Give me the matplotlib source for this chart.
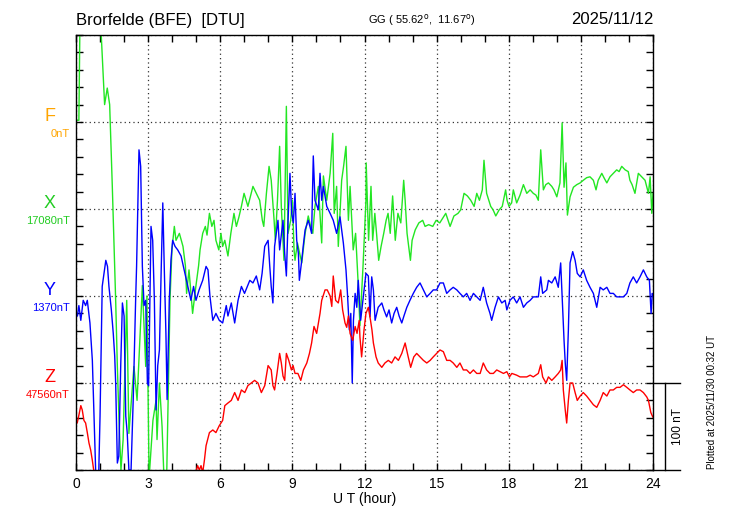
import numpy as np
import matplotlib
matplotlib.use("Agg")
import matplotlib.pyplot as plt
import matplotlib.transforms as mtransforms
from matplotlib.ticker import MultipleLocator

plt.rcParams["font.family"] = ["Liberation Sans", "DejaVu Sans"]

# ---- station / baselines ----
station = "Brorfelde (BFE)  [DTU]"
coords = "GG ( 55.62$^{\\rm o}$,  11.67$^{\\rm o}$)"
date_str = "2025/11/12"
plotted = "Plotted at 2025/11/30 00:32 UT"
comp_names = ["F", "X", "Y", "Z"]
comp_base = ["0nT", "17080nT", "1370nT", "47560nT"]
comp_colors = ["#ffa500", "#22e622", "#0000ff", "#ff0000"]
comp_offset = [300, 200, 100, 0]   # where each baseline sits on the plot (nT)

# ---- X component: hours, deviation from 17080 nT ----
x_hours = [0.0, 0.12, 0.17, 0.5, 0.9, 1.05, 1.19, 1.30, 1.40, 1.51, 1.65, 1.72,
           1.79, 1.87, 1.96, 2.11, 2.20, 2.41, 2.54, 2.76, 2.90, 2.95, 3.04, 3.2,
           3.33, 3.37, 3.47, 3.58, 3.66, 3.77, 3.83, 3.91, 3.99, 4.09, 4.16, 4.30,
           4.45, 4.55, 4.60, 4.70, 4.78, 4.85, 4.99, 5.10, 5.16, 5.27, 5.38, 5.45,
           5.55, 5.65, 5.74, 5.82, 5.94, 6.03, 6.10, 6.19, 6.32, 6.44, 6.57, 6.67,
           6.77, 6.88, 6.99, 7.15, 7.29, 7.36, 7.50, 7.64, 7.75, 7.81, 7.92, 8.03,
           8.12, 8.24, 8.29, 8.38, 8.47, 8.54, 8.65, 8.75, 8.82, 8.93, 9.0, 9.07,
           9.11, 9.21, 9.39, 9.53, 9.66, 9.76, 9.85, 9.94, 10.08, 10.22, 10.29, 10.43,
           10.57, 10.68, 10.74, 10.84, 10.91, 11.05, 11.13, 11.23, 11.33, 11.40, 11.53, 11.63,
           11.73, 11.81, 11.94, 12.06, 12.07, 12.17, 12.27, 12.34, 12.43, 12.51, 12.59, 12.69,
           12.80, 12.90, 12.98, 13.07, 13.17, 13.28, 13.39, 13.51, 13.63, 13.69, 13.77, 13.91,
           13.98, 14.11, 14.26, 14.42, 14.52, 14.67, 14.84, 14.98, 15.13, 15.38, 15.56, 15.72,
           15.89, 16.00, 16.14, 16.28, 16.42, 16.56, 16.67, 16.78, 16.90, 16.97, 17.08, 17.25,
           17.35, 17.46, 17.60, 17.73, 17.87, 17.93, 18.01, 18.12, 18.19, 18.33, 18.47, 18.61,
           18.75, 18.89, 19.02, 19.13, 19.23, 19.33, 19.44, 19.54, 19.65, 19.79, 19.88, 20.0,
           20.13, 20.22, 20.30, 20.38, 20.44, 20.55, 20.69, 20.83, 20.97, 21.10, 21.24, 21.38,
           21.52, 21.63, 21.72, 21.87, 21.96, 22.08, 22.21, 22.35, 22.49, 22.59, 22.70, 22.84,
           22.97, 23.04, 23.13, 23.25, 23.39, 23.53, 23.67, 23.81, 23.88, 23.95, 24.0]
x_dev = [102, 102, 230, 280, 260, 200, 120, 139, 120, 26, -105, -181,
         -243, -300, -265, -105, -258, -181, -220, -88, -181, -100, -310, -243,
         -220, -265, -200, -250, -310, -310, -220, -105, -47, -20, -36, -28,
         -43, -65, -97, -70, -97, -120, -88, -65, -47, -28, -20, -30,
         -5, -20, -13, -36, -47, -28, -43, -36, -54, -28, -5, -20,
         -10, 3, 18, 3, 18, 26, 18, 10, -13, -20, 18, 49,
         33, -13, -36, 10, 72, 3, -59, 118, -28, -13, 10, -47,
         -59, -39, -62, -28, -8, -20, -28, 3, 26, -39, 38, 10,
         41, 87, -5, 26, -43, 33, 49, 72, -13, 26, -47, -28,
         -82, -134, -65, 10, 53, -36, 26, -36, -5, -31, -59, -43,
         -28, -13, -5, -28, 15, -36, -5, -16, 33, 10, -28, -59,
         -36, -24, -16, -13, -20, -18, -20, -13, -16, -5, -20, -8,
         -5, -1, 18, 15, 10, 3, 18, 10, 22, 56, 18, 3,
         -1, -8, -1, 3, 22, 10, 3, 7, 22, 7, 16, 28,
         18, 22, 18, 16, 10, 68, 22, 28, 30, 26, 22, 14,
         30, 99, 25, 53, -7, 14, 25, 28, 30, 33, 36, 37,
         33, 22, 33, 41, 36, 30, 37, 41, 45, 43, 49, 45,
         43, 33, 28, 18, 41, 37, 33, 18, 37, -5, 18]

# ---- Y component: hours, deviation from 1370 nT ----
y_hours = [0.0, 0.06, 0.12, 0.20, 0.30, 0.40, 0.47, 0.58, 0.68, 0.75, 0.82, 0.92,
           1.0, 1.09, 1.24, 1.31, 1.37, 1.47, 1.55, 1.61, 1.65, 1.72, 1.78, 1.86,
           1.93, 2.0, 2.07, 2.13, 2.20, 2.29, 2.38, 2.48, 2.52, 2.62, 2.69, 2.76,
           2.83, 2.90, 2.97, 3.02, 3.12, 3.19, 3.26, 3.33, 3.40, 3.47, 3.54, 3.61,
           3.67, 3.74, 3.79, 3.88, 3.95, 4.02, 4.12, 4.23, 4.37, 4.50, 4.65, 4.78,
           4.89, 4.99, 5.12, 5.27, 5.41, 5.49, 5.57, 5.69, 5.82, 5.96, 6.10, 6.16,
           6.25, 6.32, 6.46, 6.60, 6.74, 6.88, 7.01, 7.23, 7.36, 7.50, 7.64, 7.74,
           7.85, 7.99, 8.06, 8.12, 8.19, 8.26, 8.33, 8.40, 8.47, 8.61, 8.68, 8.75,
           8.82, 8.90, 8.97, 9.04, 9.11, 9.18, 9.25, 9.29, 9.39, 9.45, 9.53, 9.66,
           9.73, 9.80, 9.87, 9.94, 10.08, 10.15, 10.22, 10.29, 10.43, 10.57, 10.70, 10.84,
           10.98, 11.12, 11.23, 11.29, 11.37, 11.43, 11.49, 11.54, 11.61, 11.68, 11.74, 11.84,
           11.95, 12.06, 12.16, 12.23, 12.30, 12.37, 12.44, 12.57, 12.72, 12.81, 12.92, 13.02,
           13.13, 13.23, 13.34, 13.44, 13.55, 13.64, 13.76, 13.89, 14.03, 14.17, 14.31, 14.45,
           14.59, 14.73, 14.86, 15.0, 15.14, 15.28, 15.42, 15.56, 15.69, 15.84, 15.97, 16.11,
           16.25, 16.39, 16.53, 16.67, 16.81, 16.94, 17.08, 17.22, 17.29, 17.43, 17.57, 17.71,
           17.85, 17.92, 18.05, 18.19, 18.33, 18.47, 18.61, 18.75, 18.89, 19.02, 19.23, 19.33,
           19.41, 19.58, 19.65, 19.79, 19.93, 20.06, 20.16, 20.22, 20.30, 20.35, 20.41, 20.48,
           20.55, 20.66, 20.76, 20.85, 20.97, 21.10, 21.24, 21.38, 21.52, 21.66, 21.80, 21.93,
           22.08, 22.21, 22.35, 22.49, 22.63, 22.77, 22.91, 23.04, 23.18, 23.32, 23.46, 23.60,
           23.74, 23.85, 23.92, 23.97, 24.0]
y_dev = [-20, -23, -11, -28, -5, -11, -5, -31, -74, -138, -203, -234,
         -138, 11, 41, 34, 11, -16, -43, -69, -100, -192, -184, -80,
         -8, -23, -138, -157, -200, -200, -119, -5, 34, 168, 149, 34,
         -11, -5, -100, -103, 80, 64, -5, -131, -80, -62, 26, 107,
         34, -43, -119, -5, 41, 64, 57, 53, 46, 30, 11, -5,
         11, -5, 7, 18, 34, 30, 0, -28, -20, -28, -31, -23,
         -11, -23, -8, -31, -5, 11, 3, 18, 15, 23, 7, 26,
         57, 64, 34, 11, -8, 57, 72, 87, 53, 87, 49, 23,
         87, 141, 95, 84, 118, 64, 49, 18, 41, 57, 76, 87,
         80, 72, 161, 110, 99, 141, 110, 126, 103, 95, 87, 72,
         91, 61, 30, 3, -39, -20, -100, -28, 3, -13, 18, -28,
         -1, 26, 23, -24, 22, 7, -28, -13, -8, -16, -24, -16,
         -31, -20, -13, -23, -31, -23, -13, -5, 3, 10, 15, 7,
         -1, 3, 7, 7, 15, 15, 3, 7, 10, 7, 3, -1,
         3, -5, 3, -1, -5, 10, -8, -20, -28, -13, -1, -8,
         -5, -16, -5, -1, -8, -1, -13, -8, -5, -1, -1, 22,
         3, 7, 18, 15, 22, 10, 38, -1, -51, -77, -97, -39,
         38, 51, 41, 26, 22, 30, 18, 10, 3, -13, 10, 7,
         10, 3, 3, -1, -1, -1, 3, 15, 22, 15, 22, 30,
         22, 18, -20, 3, 0]

# ---- Z component: hours, deviation from 47560 nT ----
z_hours = [0.0, 0.05, 0.12, 0.20, 0.26, 0.33, 0.40, 0.47, 0.54, 0.61, 0.68, 0.75,
           0.83, 2.0, 4.0, 4.8, 5.06, 5.13, 5.20, 5.27, 5.34, 5.41, 5.55, 5.69,
           5.82, 5.96, 6.10, 6.19, 6.32, 6.46, 6.60, 6.74, 6.88, 7.02, 7.15, 7.29,
           7.43, 7.57, 7.71, 7.85, 7.99, 8.12, 8.19, 8.26, 8.36, 8.47, 8.54, 8.61,
           8.68, 8.75, 8.85, 8.96, 9.03, 9.11, 9.23, 9.35, 9.46, 9.60, 9.71, 9.80,
           9.90, 10.01, 10.15, 10.22, 10.36, 10.45, 10.57, 10.64, 10.70, 10.80, 10.91, 11.01,
           11.09, 11.19, 11.26, 11.33, 11.40, 11.51, 11.61, 11.69, 11.78, 11.81, 11.88, 11.98,
           12.06, 12.16, 12.25, 12.31, 12.37, 12.48, 12.57, 12.72, 12.85, 12.99, 13.13, 13.27,
           13.41, 13.55, 13.69, 13.81, 13.92, 14.05, 14.17, 14.31, 14.45, 14.59, 14.73, 14.86,
           15.0, 15.14, 15.28, 15.42, 15.56, 15.69, 15.84, 15.97, 16.11, 16.25, 16.39, 16.53,
           16.67, 16.81, 16.94, 17.08, 17.22, 17.36, 17.50, 17.64, 17.78, 17.92, 18.03, 18.13,
           18.33, 18.47, 18.61, 18.75, 18.89, 19.02, 19.23, 19.33, 19.41, 19.55, 19.65, 19.79,
           19.93, 20.06, 20.16, 20.22, 20.27, 20.35, 20.41, 20.48, 20.55, 20.66, 20.76, 20.85,
           20.97, 21.10, 21.24, 21.38, 21.52, 21.66, 21.80, 21.93, 22.08, 22.21, 22.35, 22.49,
           22.63, 22.77, 22.91, 23.04, 23.18, 23.32, 23.46, 23.60, 23.74, 23.81, 23.91, 23.99]
z_dev = [-43, -46, -37, -26, -31, -43, -46, -57, -69, -77, -89, -103,
         -123, -180, -160, -120, -95, -100, -95, -103, -89, -72, -57, -54,
         -57, -49, -43, -26, -23, -20, -11, -20, -8, -11, -3, 0,
         3, 0, -11, -3, 20, 15, -3, -8, 11, 34, 23, 8,
         3, 34, 26, 15, 20, 11, 11, 3, 15, 23, 34, 46,
         65, 57, 80, 95, 107, 107, 100, 88, 123, 95, 92, 107,
         84, 69, 64, 77, 57, 49, 65, 57, 72, 53, 30, 61,
         80, 87, 72, 61, 46, 30, 23, 18, 23, 26, 23, 30,
         26, 34, 46, 31, 18, 30, 34, 30, 26, 23, 26, 30,
         34, 38, 36, 26, 26, 23, 18, 23, 15, 15, 11, 15,
         11, 11, 23, 15, 11, 11, 15, 13, 11, 13, 7, 11,
         9, 7, 7, 7, 9, 7, 11, 21, 7, 0, 7, 3,
         7, 11, 15, 26, -8, -31, -46, -20, 0, 0, -11, -20,
         -15, -11, -15, -20, -25, -28, -20, -11, -15, -8, -8, -5,
         -5, -2, -5, -8, -11, -8, -8, -11, -16, -20, -34, -39]

fig = plt.figure(figsize=(7.3, 5.2), dpi=100)
ax = fig.add_axes([76 / 730, 50 / 520, 577 / 730, 435 / 520])

series = [(x_hours, x_dev, 1), (y_hours, y_dev, 2), (z_hours, z_dev, 3)]
for hrs, dev, i in series:
    ax.plot(hrs, np.array(dev) + comp_offset[i], color=comp_colors[i], lw=1.0)

ax.set_xlim(0, 24)
ax.set_ylim(-100, 400)
ax.xaxis.set_major_locator(MultipleLocator(3))
ax.xaxis.set_minor_locator(MultipleLocator(1))
ax.yaxis.set_major_locator(MultipleLocator(100))
ax.yaxis.set_minor_locator(MultipleLocator(20))
ax.tick_params(which="both", direction="in", top=True, right=True, length=5, width=1)
ax.tick_params(axis="x", labelsize=10, pad=5)
ax.set_yticklabels([])
ax.set_xticklabels([str(int(v)) for v in ax.get_xticks()])
ax.grid(True, which="major", linestyle=(0, (1, 2.5)), color="#333333", lw=0.9)
ax.set_xlabel("U T (hour)", fontsize=10, labelpad=1)
for sp in ax.spines.values():
    sp.set_linewidth(1)

# component labels on the left
lab_tr = mtransforms.blended_transform_factory(fig.transFigure, ax.transData)
for name, base, col, off in zip(comp_names, comp_base, comp_colors, comp_offset):
    c = "#22cc22" if name == "X" else col
    ax.annotate(name, xy=(50 / 730, off), xycoords=lab_tr, xytext=(0, 1),
                textcoords="offset points", ha="center", va="baseline",
                fontsize=13, color=c, annotation_clip=False)
    ax.annotate(base, xy=(70 / 730, off), xycoords=lab_tr, xytext=(0, -5),
                textcoords="offset points", ha="right", va="top",
                fontsize=8, color=c, annotation_clip=False)

# 100 nT scale bar on the right
sb = mtransforms.blended_transform_factory(ax.transAxes, ax.transData)
ax.plot([1.0, 1.047], [0, 0], color="black", lw=1, transform=sb, clip_on=False)
ax.plot([1.0, 1.047], [-100, -100], color="black", lw=1, transform=sb, clip_on=False)
ax.plot([1.0208, 1.0208], [-100, 0], color="black", lw=1, transform=sb, clip_on=False)
ax.text(1.043, -50, "100 nT", transform=sb, rotation=90, ha="center", va="center", fontsize=8.5)

# titles
fig.text(76 / 730, 1 - 20 / 520, station, ha="left", va="center", fontsize=12)
fig.text(422 / 730, 1 - 20 / 520, coords, ha="center", va="center", fontsize=8)
fig.text(653 / 730, 1 - 20 / 520, date_str, ha="right", va="center", fontsize=12)
fig.text(712 / 730, 1 - 402 / 520, plotted, rotation=90, ha="center", va="center", fontsize=7)

fig.savefig("out.png", dpi=100)
